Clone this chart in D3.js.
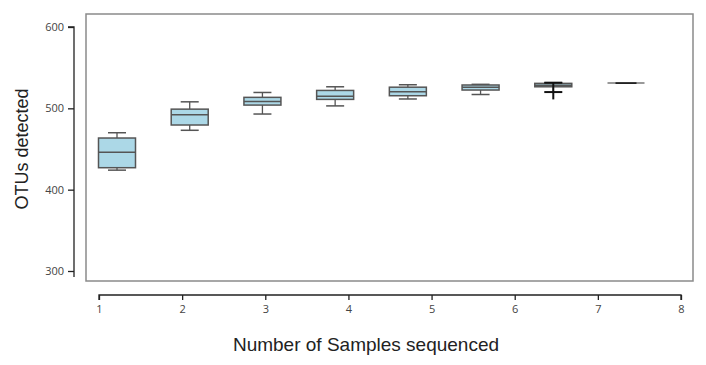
<!DOCTYPE html>
<html lang="en">
<head>
    <meta charset="utf-8">
    <title>OTUs detected</title>
    <script src="https://d3js.org/d3.v7.min.js"></script>
    <style>
        body { margin: 0; background: #fff; }
    </style>
</head>
<body>
<div id="chart"></div>
<script>
    // Data
    const categories = [1, 2, 3, 4, 5, 6, 7, 8];
    const whiskLow  = [424, 473, 493, 503, 511.5, 517, 520, 531];
    const q1        = [427, 479.5, 504, 511, 515.5, 522.5, 526.5, 531];
    const median    = [446, 492, 508.5, 515, 520.5, 526, 528.5, 531];
    const q3        = [463.5, 499, 513.5, 522, 526, 528.7, 530.7, 531];
    const whiskHigh = [470, 508, 519.5, 526.5, 529, 529.5, 531.5, 531];
    const tailLow   = [null, null, null, null, null, null, 511, null];
    const yTicks = [300, 400, 500, 600];
    const xTicks = [1, 2, 3, 4, 5, 6, 7, 8];

    const W = 706, H = 365;
    const svg = d3.select("#chart").append("svg")
        .attr("width", W).attr("height", H)
        .style("font-family", "'Liberation Sans', Arial, sans-serif");

    const y = d3.scaleLinear().domain([300, 600]).range([271, 27]);
    const xBox = d3.scaleLinear().domain([1, 8]).range([117, 626]);
    const xAxis = d3.scaleLinear().domain([1, 8]).range([99, 681]);

    // plot frame
    svg.append("rect")
        .attr("x", 86).attr("y", 14)
        .attr("width", 607).attr("height", 267)
        .attr("fill", "none")
        .attr("stroke", "#8a8a8a")
        .attr("stroke-width", 1.5);

    // Y axis
    const gy = svg.append("g")
        .attr("transform", "translate(74,0)")
        .call(d3.axisLeft(y).tickValues(yTicks).tickFormat(d3.format("d")).tickSize(6).tickPadding(4));
    gy.select(".domain").attr("stroke", "#222").attr("stroke-width", 1.3)
        .attr("d", `M-6,${y(600)}H0V${y(300) + 6}`);
    gy.selectAll(".tick line").attr("stroke", "#222").attr("stroke-width", 1.3);
    gy.selectAll("text").attr("fill", "#444").style("font-size", "11px")
        .style("font-family", "'Open Sans', sans-serif");

    // X axis
    const gx = svg.append("g")
        .attr("transform", "translate(0,295)")
        .call(d3.axisBottom(xAxis).tickValues(xTicks).tickFormat(d3.format("d")).tickSize(5).tickPadding(5));
    gx.select(".domain").attr("stroke", "#222").attr("stroke-width", 1.3)
        .attr("d", `M${xAxis(1)},5V0H${xAxis(8)}V5`);
    gx.selectAll(".tick line").attr("stroke", "#222").attr("stroke-width", 1.3);
    gx.selectAll("text").attr("fill", "#444").style("font-size", "11px")
        .style("font-family", "'Open Sans', sans-serif");

    // axis titles
    svg.append("text")
        .attr("transform", `translate(28,${(27 + 271) / 2}) rotate(-90)`)
        .attr("text-anchor", "middle")
        .attr("fill", "#222")
        .style("font-size", "18px")
        .text("OTUs detected");
    svg.append("text")
        .attr("x", 366).attr("y", 351)
        .attr("text-anchor", "middle")
        .attr("fill", "#222")
        .style("font-size", "19px")
        .text("Number of Samples sequenced");

    // boxes
    const boxW = 37, capW = 18;
    const data = categories.map((c, i) => ({
        c, lo: whiskLow[i], q1: q1[i], med: median[i], q3: q3[i], hi: whiskHigh[i], tail: tailLow[i]
    }));
    const g = svg.append("g");
    const boxes = g.selectAll("g.box").data(data).join("g").attr("class", "box");

    // whiskers
    boxes.append("line")
        .attr("x1", d => xBox(d.c)).attr("x2", d => xBox(d.c))
        .attr("y1", d => y(d.hi)).attr("y2", d => y(d.q3))
        .attr("stroke", "#555").attr("stroke-width", 1.3);
    boxes.append("line")
        .attr("x1", d => xBox(d.c)).attr("x2", d => xBox(d.c))
        .attr("y1", d => y(d.q1)).attr("y2", d => y(d.lo))
        .attr("stroke", "#555").attr("stroke-width", 1.3);
    boxes.filter(d => d.hi !== d.lo).append("line")
        .attr("x1", d => xBox(d.c) - capW / 2).attr("x2", d => xBox(d.c) + capW / 2)
        .attr("y1", d => y(d.hi)).attr("y2", d => y(d.hi))
        .attr("stroke", "#555").attr("stroke-width", 1.5);
    boxes.filter(d => d.hi !== d.lo).append("line")
        .attr("x1", d => xBox(d.c) - capW / 2).attr("x2", d => xBox(d.c) + capW / 2)
        .attr("y1", d => y(d.lo)).attr("y2", d => y(d.lo))
        .attr("stroke", d => d.tail ? "#111" : "#555")
        .attr("stroke-width", d => d.tail ? 2 : 1.5);

    // box bodies
    boxes.filter(d => d.q3 !== d.q1).append("rect")
        .attr("x", d => xBox(d.c) - boxW / 2)
        .attr("y", d => y(d.q3))
        .attr("width", boxW)
        .attr("height", d => y(d.q1) - y(d.q3))
        .attr("fill", "#acd8e7")
        .attr("stroke", "#555").attr("stroke-width", 1.5);

    // medians
    boxes.append("line")
        .attr("x1", d => xBox(d.c) - boxW / 2).attr("x2", d => xBox(d.c) + boxW / 2)
        .attr("y1", d => y(d.med)).attr("y2", d => y(d.med))
        .attr("stroke", d => d.q3 === d.q1 ? "#777" : "#555")
        .attr("stroke-width", 1.5);
    boxes.filter(d => d.q3 === d.q1).append("line")
        .attr("x1", d => xBox(d.c) - boxW / 2 + 8).attr("x2", d => xBox(d.c) + boxW / 2 - 8)
        .attr("y1", d => y(d.med)).attr("y2", d => y(d.med))
        .attr("stroke", "#222").attr("stroke-width", 1.8);

    // the dark cross on box 7
    boxes.filter(d => d.tail).append("line")
        .attr("x1", d => xBox(d.c)).attr("x2", d => xBox(d.c))
        .attr("y1", d => y(d.hi)).attr("y2", d => y(d.tail))
        .attr("stroke", "#111").attr("stroke-width", 2);
    boxes.filter(d => d.tail).append("line")
        .attr("x1", d => xBox(d.c) - capW / 2).attr("x2", d => xBox(d.c) + capW / 2)
        .attr("y1", d => y(d.hi)).attr("y2", d => y(d.hi))
        .attr("stroke", "#111").attr("stroke-width", 2);
</script>
</body>
</html>
